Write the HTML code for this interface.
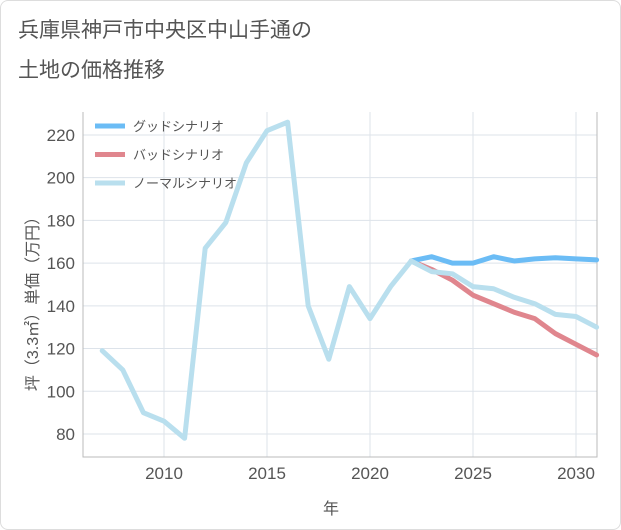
<!DOCTYPE html>
<html><head><meta charset="utf-8"><style>
body{margin:0;background:#fff;font-family:"Liberation Sans","Noto Sans CJK JP",sans-serif;}
#card{position:absolute;left:0;top:0;width:619px;height:528px;border:1px solid #ddd;border-radius:8px;}
</style></head><body>
<div id="card"></div>
<svg id="chart" width="621" height="530" style="position:absolute;left:0;top:0" font-family="Liberation Sans, Noto Sans CJK JP, sans-serif">
<text x="18" y="37" font-size="21" fill="#555">兵庫県神戸市中央区中山手通の</text>
<text x="18" y="77" font-size="21" fill="#555">土地の価格推移</text>
<g id="grid"></g><g id="series"></g><g id="legend"></g>
<text x="331" y="514" font-size="16" fill="#555" text-anchor="middle">年</text>
<text transform="translate(38,300) rotate(-90)" font-size="16" fill="#555" text-anchor="middle">坪（3.3㎡）単価（万円）</text>
</svg>
<script>
const years=[2007,2008,2009,2010,2011,2012,2013,2014,2015,2016,2017,2018,2019,2020,2021,2022,2023,2024,2025,2026,2027,2028,2029,2030,2031];
const normal=[119,110,90,86,78,167,179,207,222,226,140,115,149,134,149,161,156,155,149,148,144,141,136,135,130];
const goodYears=[2022,2023,2024,2025,2026,2027,2028,2029,2030,2031];
const good=[161,163,160,160,163,161,162,162.5,162,161.5];
const bad=[161,157,152,145,141,137,134,127,122,117];
const xTicks=[2010,2015,2020,2025,2030];
const yTicks=[80,100,120,140,160,180,200,220];
const L=83,R=597,T=112,B=457;
const x=y=>164+(y-2010)*20.6;
const yv=v=>434-(v-80)*2.136;
const NS='http://www.w3.org/2000/svg';
function mk(tag,attrs,parent){const e=document.createElementNS(NS,tag);for(const k in attrs)e.setAttribute(k,attrs[k]);parent.appendChild(e);return e;}
const g=document.getElementById('grid');
yTicks.forEach(v=>{
 const l=mk('line',{x1:L,x2:R,y1:yv(v),y2:yv(v),stroke:'#dde3ea','stroke-width':1},g);
 
 
 const t=mk('text',{x:L-8,y:yv(v)+6,'font-size':17,fill:'#555','text-anchor':'end'},g);t.textContent=v;
 
 
});
xTicks.forEach(v=>{
 const l=mk('line',{x1:x(v),x2:x(v),y1:T,y2:B,stroke:'#dde3ea','stroke-width':1},g);
 
 
 const t=mk('text',{x:x(v),y:B+22,'font-size':17,fill:'#555','text-anchor':'middle'},g);t.textContent=v;
 
 
});
const fr=mk('path',{d:`M${L},${T}V${B}H${R}V${T}`,fill:'none',stroke:'#bbb','stroke-width':1},g);


const s=document.getElementById('series');
function line(xs,vals,color,name){
 const p=mk('polyline',{points:xs.map((yy,i)=>x(yy)+','+yv(vals[i])).join(' '),fill:'none',stroke:color,'stroke-width':5,'stroke-linejoin':'round','stroke-linecap':'round'},s);
 
 
}
line(goodYears,bad,'#e0868e','bad-scenario-line');
line(goodYears,good,'#6bbcf5','good-scenario-line');
line(years,normal,'#b9dfee','normal-scenario-line');
const lg=document.getElementById('legend');
[['グッドシナリオ','#6bbcf5','legend-good'],['バッドシナリオ','#e0868e','legend-bad'],['ノーマルシナリオ','#b9dfee','legend-normal']].forEach((d,i)=>{
 const yy=126+i*28.5;
 const gg=mk('g',{},lg);
 
 
 mk('line',{x1:95,x2:125,y1:yy,y2:yy,stroke:d[1],'stroke-width':5},gg);
 const t=mk('text',{x:133,y:yy+5,'font-size':13,fill:'#555'},gg);t.textContent=d[0];
});
</script>
</body></html>
